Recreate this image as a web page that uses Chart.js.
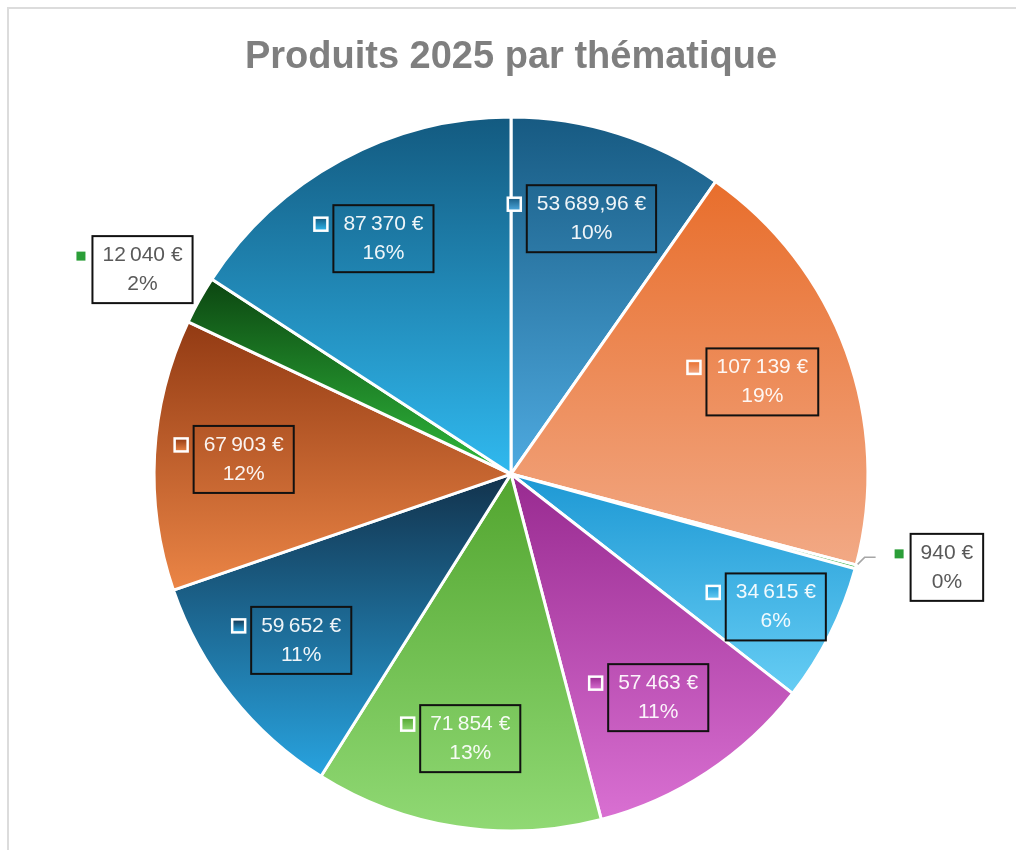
<!DOCTYPE html>
<html>
<head>
<meta charset="utf-8">
<script src="https://cdn.jsdelivr.net/npm/chart.js@4"></script>
<style>
html, body { margin: 0; padding: 0; background: #fff; }
#wrap { width: 1016px; height: 850px; }
</style>
</head>
<body>
<div id="wrap"><canvas id="chart"></canvas></div>
<script>
// categories are not shown in the picture, only the values
const categories = ['Thématique 1', 'Thématique 2', 'Thématique 3', 'Thématique 4', 'Thématique 5',
    'Thématique 6', 'Thématique 7', 'Thématique 8', 'Thématique 9', 'Thématique 10'];
const values = [53689.96, 107139, 940, 34615, 57463, 71854, 59652, 67903, 12040, 87370];
// percentages as printed on the chart
const percentLabels = ['10%', '19%', '0%', '6%', '11%', '13%', '11%', '12%', '2%', '16%'];

const topColors = ['#175a82', '#e86e2c', '#1a7a2a', '#1d98d4', '#982a90', '#52a52f', '#12324c', '#923a13', '#0c4611', '#135a80'];
const bottomColors = ['#4eaae0', '#f2a985', '#33b043', '#66cdf4', '#d970d2', '#90d974', '#28a3df', '#eb8546', '#30ba3c', '#30b9ef'];

const fmt = new Intl.NumberFormat('fr-FR', { minimumFractionDigits: 0, maximumFractionDigits: 2 });
const total = values.reduce((s, v) => s + v, 0);

function sliceGeom(chart, i) {
    const a = chart.chartArea;
    const cx = (a.left + a.right) / 2, cy = (a.top + a.bottom) / 2;
    const R = (Math.min(a.right - a.left, a.bottom - a.top) - 3) / 2;
    let before = 0;
    for (let k = 0; k < i; k++) before += values[k];
    const a0 = -Math.PI / 2 + before / total * 2 * Math.PI;
    const a1 = a0 + values[i] / total * 2 * Math.PI;
    return { cx, cy, R, a0, a1 };
}

function yRange(g) {
    let ys = [g.cy, g.cy + g.R * Math.sin(g.a0), g.cy + g.R * Math.sin(g.a1)];
    [-Math.PI / 2, Math.PI / 2, 3 * Math.PI / 2].forEach(t => {
        if (t >= g.a0 - 1e-9 && t <= g.a1 + 1e-9) ys.push(g.cy + g.R * Math.sin(t));
    });
    return [Math.min(...ys), Math.max(...ys)];
}

function sliceFill(context) {
    const chart = context.chart;
    const i = context.dataIndex;
    if (!chart.chartArea) return topColors[i];
    const [y0, y1] = yRange(sliceGeom(chart, i));
    const g = chart.ctx.createLinearGradient(0, y0, 0, y1);
    g.addColorStop(0, topColors[i]);
    g.addColorStop(1, bottomColors[i]);
    return g;
}

const frame = {
    id: 'frame',
    beforeDraw(chart) {
        const c = chart.ctx;
        c.save();
        c.strokeStyle = '#dcdcdc';
        c.lineWidth = 2;
        c.beginPath();
        c.moveTo(8, chart.height);
        c.lineTo(8, 8);
        c.lineTo(chart.width, 8);
        c.stroke();
        c.restore();
    }
};

const sliceLabels = {
    id: 'sliceLabels',
    afterDatasetsDraw(chart) {
        const c = chart.ctx;
        const meta = chart.getDatasetMeta(0);
        c.save();
        c.font = '21px "Liberation Sans", Arial, sans-serif';
        c.textAlign = 'center';
        c.textBaseline = 'middle';
        meta.data.forEach((arc, i) => {
            const frac = values[i] / total;
            const mid = (arc.startAngle + arc.endAngle) / 2;
            const R = arc.outerRadius;
            const outside = frac < 0.03;
            const line1 = fmt.format(values[i]) + '\u00A0€';
            const line2 = percentLabels[i];
            const w = Math.max(c.measureText(line1).width, c.measureText(line2).width) + 20;
            const h = 67;
            // point on the rim at the middle of the slice
            const px = arc.x + Math.cos(mid) * (R + 2);
            const py = arc.y + Math.sin(mid) * (R + 2);
            let bx, by;
            if (outside) {
                if (Math.cos(mid) > 0) {
                    bx = px + 53 + w / 2;
                    by = py;
                } else {
                    bx = px - 5 - w / 2;
                    by = py + 4 - h / 2;
                }
            } else {
                const k = frac < 0.08 ? 0.83 : 0.75;
                bx = arc.x + Math.cos(mid) * R * k;
                by = arc.y + Math.sin(mid) * R * k;
            }
            const left = bx - w / 2, top = by - h / 2;

            if (outside) {
                c.fillStyle = '#fff';
                c.fillRect(left, top, w, h);
            }
            c.strokeStyle = '#111';
            c.lineWidth = 2;
            c.strokeRect(left, top, w, h);

            c.fillStyle = outside ? '#595959' : 'rgba(255,255,255,0.93)';
            c.fillText(line1, bx, by - 14.5);
            c.fillText(line2, bx, by + 14.5);

            // legend key
            const kx = left - 6 - 13, ky = by - 14.5 - 6.5;
            if (outside) {
                c.fillStyle = '#2b9e38';
                c.fillRect(kx + 3, ky + 3, 9, 9);
                // leader line when label is away from the slice
                const nx = Math.max(kx, Math.min(px, left + w));
                const ny = Math.max(top, Math.min(py, top + h));
                if (Math.hypot(nx - px, ny - py) > 25) {
                    c.strokeStyle = '#a6a6a6';
                    c.lineWidth = 1.5;
                    c.beginPath();
                    c.moveTo(px, py - 3);
                    c.lineTo(px + 7, py - 10);
                    c.lineTo(px + 18, py - 10);
                    c.stroke();
                }
            } else {
                const g = c.createLinearGradient(0, ky, 0, ky + 13);
                g.addColorStop(0, topColors[i]);
                g.addColorStop(1, bottomColors[i]);
                c.fillStyle = g;
                c.fillRect(kx, ky, 13, 13);
                c.strokeStyle = '#fff';
                c.lineWidth = 2.5;
                c.strokeRect(kx, ky, 13, 13);
            }
        });
        c.restore();
    }
};

const ctx = document.getElementById('chart').getContext('2d');
const mychart = new Chart(ctx, {
    type: 'pie',
    data: {
        labels: categories,
        datasets: [{
            data: values,
            backgroundColor: sliceFill,
            borderColor: '#ffffff',
            borderWidth: 3
        }]
    },
    options: {
        responsive: true,
        maintainAspectRatio: false,
        animation: false,
        events: [],
        layout: { padding: { top: 8, bottom: 17.5, left: 16, right: 10 } },
        plugins: {
            legend: { display: false },
            tooltip: { enabled: false },
            title: {
                display: true,
                text: 'Produits 2025 par thématique',
                color: '#7f7f7f',
                font: { family: '"Liberation Sans", Arial, sans-serif', size: 38, weight: 'bold' },
                padding: { top: 27, bottom: 35 }
            }
        }
    },
    plugins: [frame, sliceLabels]
});
</script>
</body>
</html>
